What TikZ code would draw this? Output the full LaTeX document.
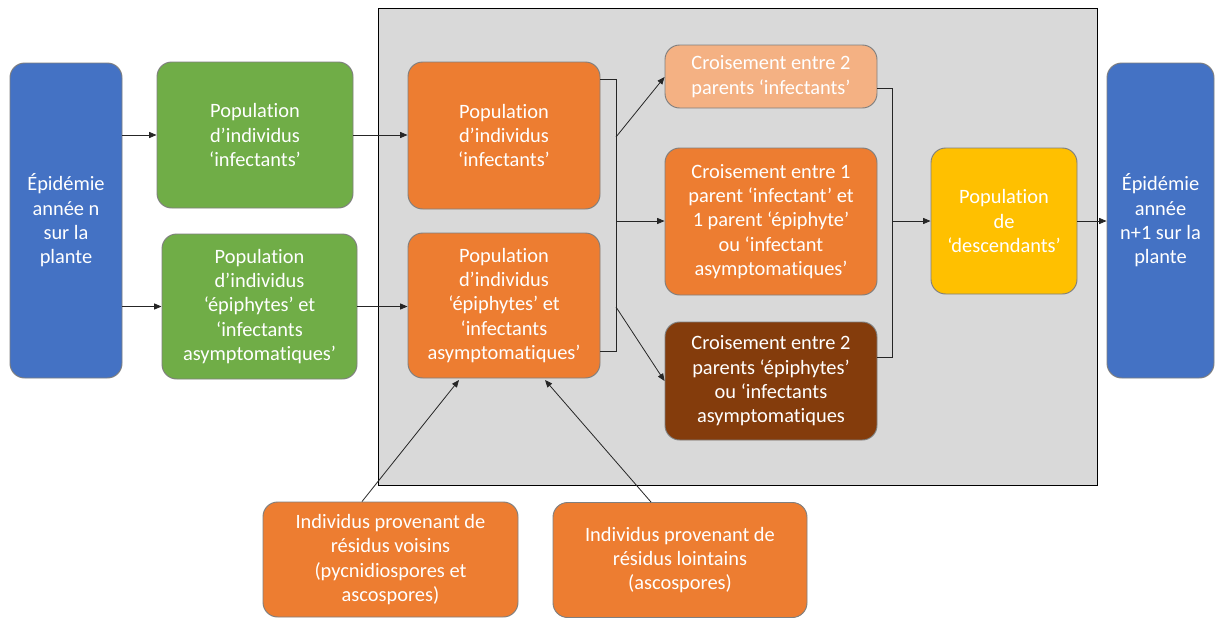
\documentclass[tikz,border=0pt]{standalone}
\usepackage{fontspec}
\setmainfont{Carlito}[Ligatures={NoCommon}]
\usetikzlibrary{arrows.meta,calc}
\definecolor{cblue}{HTML}{4472C4}
\definecolor{cgreen}{HTML}{70AD47}
\definecolor{corange}{HTML}{ED7D31}
\definecolor{clight}{HTML}{F4B183}
\definecolor{cbrown}{HTML}{843C0C}
\definecolor{cyellow}{HTML}{FFC000}
\definecolor{cbg}{HTML}{D9D9D9}
\definecolor{cedge}{HTML}{7F7F7F}
\tikzset{
  box/.style={draw=cedge, line width=0.7pt, rounded corners=11pt, text=white, align=center,
    font=\fontsize{15.3}{18.2}\selectfont, inner sep=2pt},
  conn/.style={draw=black!85, line width=0.6pt},
  arr/.style={conn, -{Triangle[length=5.5pt,width=4.5pt]}}
}
\begin{document}
\begin{tikzpicture}[x=0.75pt,y=-0.75pt]
\useasboundingbox (0,0) rectangle (1215,618);
\fill[white] (0,0) rectangle (1215,618);
\draw[fill=cbg, line width=0.7pt] (378,8) rectangle (1097,485);

\node[box, fill=cblue, minimum width=84pt, minimum height=236.25pt] (epn) at (66,220.5)
  {Épidémie\\année n\\sur la\\plante};
\node[box, fill=cgreen, minimum width=147pt, minimum height=109.5pt] (g1) at (255,135)
  {Population\\d’individus\\‘infectants’};
\node[box, fill=cgreen, minimum width=146.25pt, minimum height=108.75pt] (g2) at (259.5,306.5)
  {Population\\d’individus\\‘épiphytes’ et\\‘infectants\\asymptomatiques’};
\node[box, fill=corange, minimum width=144pt, minimum height=110.25pt] (o1) at (504,135.5)
  {Population\\d’individus\\‘infectants’};
\node[box, fill=corange, minimum width=144pt, minimum height=108.75pt] (o2) at (504,305.5)
  {Population\\d’individus\\‘épiphytes’ et\\‘infectants\\asymptomatiques’};
\node[box, fill=clight, minimum width=159pt, minimum height=47.25pt] (c1) at (771,76.5)
  {Croisement entre 2\\parents ‘infectants’};
\node[box, fill=corange, minimum width=159pt, minimum height=110.25pt] (c2) at (771,221.5)
  {Croisement entre 1\\parent ‘infectant’ et\\1 parent ‘épiphyte’\\ou ‘infectant\\asymptomatiques’};
\node[box, fill=cbrown, minimum width=159pt, minimum height=88.5pt] (c3) at (771,381)
  {Croisement entre 2\\parents ‘épiphytes’\\ou ‘infectants\\asymptomatiques};
\node[box, fill=cyellow, minimum width=109.5pt, minimum height=109.5pt] (desc) at (1004,221)
  {Population\\de\\‘descendants’};
\node[box, fill=cblue, minimum width=80.25pt, minimum height=236.25pt] (epn1) at (1160.5,220.5)
  {Épidémie\\année\\n+1 sur la\\plante};
\node[box, fill=corange, minimum width=191.25pt, minimum height=86.25pt] (b1) at (390.5,559.5)
  {Individus provenant de\\résidus voisins\\(pycnidiospores et\\ascospores)};
\node[box, fill=corange, minimum width=190.5pt, minimum height=86.25pt] (b2) at (680,560)
  {Individus provenant de\\résidus lointains\\(ascospores)};

% left arrows
\draw[arr] (epn.east |- g1) -- (g1.west);
\draw[arr] (epn.east |- g2) -- (g2.west);
\draw[arr] (g1.east) -- (o1.west |- g1.east);
\draw[arr] (g2.east) -- (o2.west |- g2.east);

% left bracket
\coordinate (lt) at (616,79);
\coordinate (lb) at (616,351);
\draw[conn] (o1.east |- lt) -- (lt) -- (lb) -- (o2.east |- lb);
\coordinate (s1) at (616,137);
\coordinate (s2) at (616,221);
\coordinate (s3) at (616,307);
\draw[arr] (s1) -- (c1.west |- 0,77);
\draw[arr] (s2) -- (c2.west |- s2);
\draw[arr] (s3) -- (c3.west |- 0,381);

% right bracket
\coordinate (rt) at (892,88);
\coordinate (rb) at (892,357);
\draw[conn] (c1.east |- rt) -- (rt) -- (rb) -- (c3.east |- rb);
\coordinate (r2) at (892,221);
\draw[arr] (r2) -- (desc.west |- r2);
\draw[arr] (desc.east) -- (epn1.west |- desc.east);

% bottom arrows
\draw[arr] (b1.north -| 362,0) -- (459,380);
\draw[arr] (b2.north -| 651,0) -- (545,380);
\end{tikzpicture}
\end{document}
